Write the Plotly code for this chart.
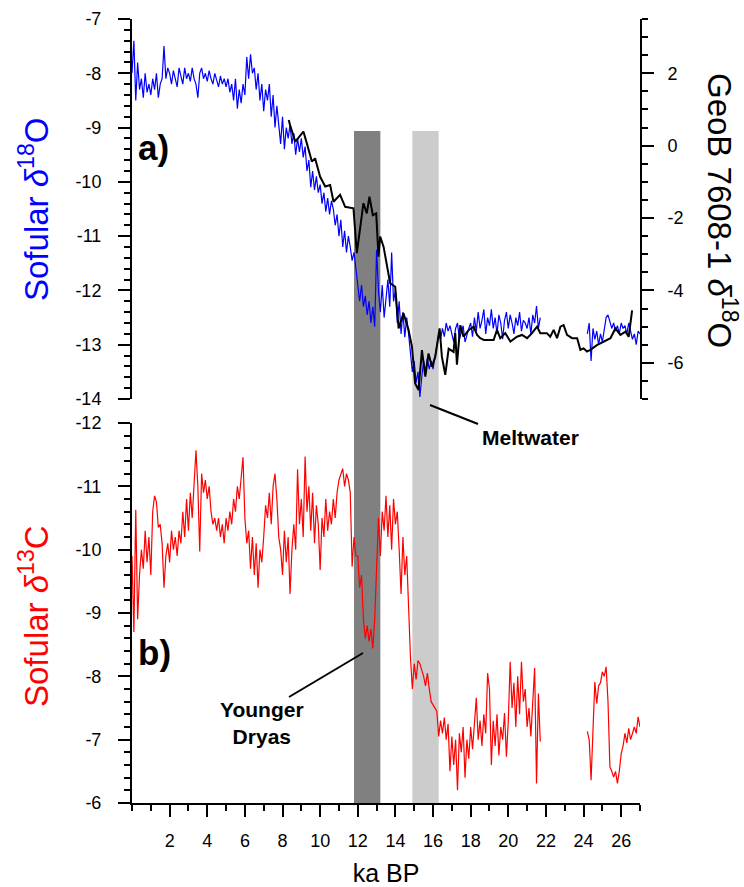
import numpy as np
import plotly.graph_objects as go

# ---------------- data ----------------
# Sofular d18O (blue), 0.1 ka steps, two segments (gap 21.7-24.2 ka)
sof_d18o_age_a = np.round(np.arange(0.0, 21.75, 0.1), 2)
sof_d18o_a = [
    -8.0, -7.4, -8.5, -7.8, -8.3, -8.1, -8.45, -8.0, -8.35, -8.2,
    -8.4, -8.1, -8.3, -8.0, -8.45, -8.2, -8.1, -7.5, -8.1, -7.9,
    -8.0, -8.2, -7.95, -8.1, -8.25, -7.9, -8.05, -8.2, -7.9, -8.1,
    -8.0, -8.15, -7.9, -8.1, -8.2, -8.45, -8.0, -7.9, -8.1, -8.0,
    -8.15, -7.95, -8.1, -8.2, -8.0, -8.15, -8.25, -8.05, -8.2, -8.1,
    -8.25, -8.1, -8.35, -8.2, -8.5, -8.1, -8.65, -8.3, -8.55, -8.2,
    -8.4, -7.7, -8.1, -7.65, -8.0, -7.9, -8.3, -8.0, -8.5, -8.2,
    -8.7, -8.3, -8.5, -8.2, -8.8, -8.4, -9.0, -8.6, -8.9, -9.3,
    -8.8, -9.4, -9.0, -9.2, -8.95, -9.3, -9.1, -9.5, -9.2, -9.45,
    -9.2, -9.55, -9.35, -9.8, -9.6, -10.1, -9.8, -10.15, -9.9, -10.2,
    -10.05, -10.4, -10.2, -10.55, -10.3, -10.6, -10.35, -10.5, -10.8, -10.6,
    -11.0, -10.7, -11.2, -10.9, -11.3, -11.0, -11.2, -11.45, -11.3, -11.6,
    -11.8, -12.2, -11.9, -12.3, -12.1, -12.45, -12.2, -12.6, -12.3, -12.67,
    -11.25, -12.0, -12.4, -11.9, -12.5, -12.2, -11.8, -12.3, -11.3, -12.2,
    -12.0, -12.6, -12.2, -12.8, -12.4, -12.86, -12.5, -12.8, -13.2, -13.5,
    -13.3, -13.7, -13.5, -13.96, -13.6, -13.3, -13.5, -13.25, -13.45, -13.3,
    -13.45, -13.2, -12.95, -12.8, -12.9, -12.7, -12.85, -12.6, -12.75, -12.65,
    -12.8, -12.95, -12.7, -12.6, -12.9, -12.75, -12.65, -12.95, -12.8, -12.7,
    -12.6, -12.85, -12.5, -12.75, -12.4, -12.7, -12.55, -12.35, -12.8, -12.5,
    -12.65, -12.35, -12.7, -12.5, -12.8, -12.45, -12.6, -12.9, -12.55, -12.4,
    -12.7, -12.45, -12.6, -12.8, -12.5, -12.65, -12.4, -12.75, -12.55, -12.6,
    -12.7, -12.5, -12.8, -12.45, -12.6, -12.29, -12.7, -12.5,
]
sof_d18o_age_b = np.round(np.arange(24.2, 27.05, 0.1), 2)
sof_d18o_b = [
    -12.8, -12.6, -13.3, -12.7, -12.9, -12.75, -13.0, -12.8, -12.95, -12.75,
    -12.5, -12.45, -12.6, -12.7, -12.6, -12.75, -12.65, -12.8, -12.6, -12.7,
    -12.65, -12.8, -12.6, -12.75, -12.9, -12.8, -13.0, -12.75, -12.8,
]

# GeoB 7608-1 d18O (black, right axis)
geob_age = [
    8.33, 8.40, 8.68, 8.76, 9.11, 9.29, 9.56, 9.73, 10.0, 10.27, 10.53, 10.71,
    11.06, 11.33, 11.77, 11.95, 12.30, 12.48, 12.62, 12.80, 12.98, 13.10,
    13.19, 13.37, 13.55, 13.72, 13.99, 14.17, 14.43, 14.70, 14.88, 15.05,
    15.23, 15.41, 15.59, 15.76, 15.94, 16.12, 16.35, 16.47, 16.65, 16.83,
    17.09, 17.18, 17.27, 17.45, 17.62, 17.90, 18.16, 18.34, 18.51, 18.70,
    19.22, 19.40, 19.57, 19.84, 20.11, 20.46, 20.73, 21.00, 21.26, 21.53,
    21.70, 22.05, 22.23, 22.41, 22.59, 22.77, 22.94, 23.12, 23.39, 23.66,
    23.83, 24.00, 24.18, 24.36, 24.71, 25.07, 25.43, 25.69, 25.96, 26.23,
    26.40, 26.58,
]
geob_d18o = [
    0.71, 0.57, 0.11, 0.16, 0.39, 0.07, -0.44, -0.35, -0.86, -1.13, -1.09, -1.55,
    -1.36, -1.69, -1.73, -2.97, -1.59, -1.87, -1.41, -1.92, -1.87, -3.07,
    -2.51, -2.79, -3.34, -3.80, -3.90, -5.05, -4.63, -5.09, -5.55, -6.57,
    -6.75, -5.65, -6.38, -5.74, -6.11, -5.83, -5.05, -5.83, -6.33, -5.61,
    -5.70, -5.18, -6.05, -4.96, -5.28, -5.09, -5.00, -5.23, -5.32, -5.37,
    -5.37, -5.09, -5.32, -5.18, -5.41, -5.28, -5.23, -5.32, -5.18, -5.00,
    -5.18, -5.18, -5.28, -5.09, -5.32, -5.00, -4.96, -5.23, -5.32, -5.32,
    -5.64, -5.60, -5.69, -5.64, -5.51, -5.41, -5.32, -5.05, -5.23, -5.14,
    -5.28, -4.55,
]

# Sofular d13C (red), 0.1 ka steps, two segments
sof_d13c_age_a = np.round(np.arange(0.0, 21.75, 0.1), 2)
sof_d13c_a = [
    -9.9, -8.7, -10.63, -8.9, -9.6, -10.0, -9.7, -10.3, -9.8, -10.2,
    -9.6, -10.6, -10.85, -10.75, -10.35, -10.4, -10.1, -9.4, -9.9, -10.1,
    -9.8, -10.3, -10.0, -10.2, -9.9, -10.3, -10.1, -10.6, -10.2, -10.8,
    -10.3, -10.9, -10.5, -11.1, -11.57, -11.0, -9.97, -11.2, -10.9, -11.1,
    -10.8, -11.0, -10.6, -10.4, -10.5, -10.3, -10.5, -10.2, -10.4, -10.1,
    -10.5, -10.3, -10.6, -10.4, -10.8, -10.6, -11.0, -10.8, -11.2, -11.46,
    -10.5, -10.1, -10.3, -9.7, -10.2, -9.6, -10.1, -9.4, -10.0, -9.8,
    -10.2, -10.7, -10.5, -10.9, -10.4, -11.0, -11.2, -10.8, -10.2, -10.0,
    -9.6, -10.3, -9.8, -10.2, -9.3, -10.0, -10.4, -10.0, -11.27, -10.4,
    -10.8, -10.2, -11.47, -10.6, -11.0, -10.3, -10.9, -10.1, -10.7, -10.4,
    -9.68, -10.5, -10.2, -10.8, -10.3, -10.6, -10.4, -10.8, -10.5, -10.9,
    -11.1, -11.2, -11.28, -11.0, -11.2, -11.1, -10.9, -9.73, -10.2, -9.9,
    -9.9, -9.4, -9.6, -8.9, -8.6, -8.8, -8.55, -8.75, -8.44, -8.9,
    -9.8, -10.5, -9.9, -10.6, -10.3, -10.85, -10.2, -10.7, -10.0, -10.8,
    -10.4, -10.6, -10.0, -9.3, -10.2, -9.6, -9.9, -9.0, -8.3, -7.8,
    -8.2, -7.95, -8.25, -8.2, -8.1, -8.0, -7.85, -8.05, -7.8, -7.6,
    -7.55, -7.5, -7.45, -7.05, -7.3, -7.1, -7.35, -7.0, -7.25, -6.5,
    -7.05, -6.6, -7.0, -6.2, -7.1, -6.8, -7.2, -6.4, -7.0, -6.7,
    -7.2, -6.85, -7.3, -7.66, -7.0, -7.3, -6.9, -7.4, -7.1, -8.05,
    -7.8, -6.6, -7.3, -6.9, -7.4, -6.75, -7.2, -7.0, -7.42, -6.73,
    -7.3, -8.23, -7.5, -7.9, -7.2, -8.0, -7.4, -8.23, -7.6, -7.8,
    -7.2, -7.5, -7.05, -7.7, -8.13, -6.31, -7.73, -6.97,
]
sof_d13c_age_b = np.round(np.arange(24.2, 27.05, 0.1), 2)
sof_d13c_b = [
    -7.13, -7.0, -6.36, -7.2, -7.91, -7.57, -7.85, -7.9, -8.07, -8.0,
    -8.15, -7.6, -6.57, -6.5, -6.41, -6.5, -6.31, -6.5, -6.78, -6.9,
    -7.1, -6.95, -7.18, -7.0, -7.1, -7.2, -7.1, -7.36, -7.2,
]

x_ticks = list(range(2, 27, 2))
top_left_ticks = [-7, -8, -9, -10, -11, -12, -13, -14]
right_ticks = [2, 0, -2, -4, -6]
bottom_ticks = [-12, -11, -10, -9, -8, -7, -6]
younger_dryas = (11.8, 13.2)
meltwater = (14.9, 16.3)

# ---------------- figure ----------------
W, H = 744, 887
def px(x):
    return x / W
def py(y):
    return 1 - y / H

FONT = "Liberation Sans, Arial, Helvetica, sans-serif"
XD = [px(132), px(640)]

fig = go.Figure()

nan = [None]
fig.add_trace(go.Scatter(
    x=list(sof_d18o_age_a) + nan + list(sof_d18o_age_b),
    y=sof_d18o_a + nan + sof_d18o_b,
    mode="lines", line=dict(color="#0000ff", width=1.2),
    xaxis="x2", yaxis="y", showlegend=False, connectgaps=False))
fig.add_trace(go.Scatter(
    x=geob_age, y=geob_d18o, mode="lines",
    line=dict(color="black", width=2),
    xaxis="x2", yaxis="y3", showlegend=False))
fig.add_trace(go.Scatter(
    x=list(sof_d13c_age_a) + nan + list(sof_d13c_age_b),
    y=sof_d13c_a + nan + sof_d13c_b,
    mode="lines", line=dict(color="#ff0000", width=1.2),
    xaxis="x", yaxis="y2", showlegend=False, connectgaps=False))

common_tick = dict(ticks="outside", tickcolor="black", tickwidth=2,
                   showline=True, linecolor="black", linewidth=2,
                   showgrid=False, zeroline=False, automargin=False,
                   tickfont=dict(family=FONT, size=18, color="black"))

def lab(v):
    return ["-" + str(abs(t)) if t < 0 else str(t) for t in v]

fig.update_layout(
    width=W, height=H, margin=dict(l=0, r=0, t=0, b=0),
    paper_bgcolor="white", plot_bgcolor="rgba(0,0,0,0)",
    font=dict(family=FONT, color="black"),
    xaxis=dict(domain=XD, anchor="y2", range=[0, 27],
               tickmode="array", tickvals=x_ticks, ticktext=lab(x_ticks),
               ticklen=12, ticklabelstandoff=8,
               title=dict(text="ka BP", standoff=22,
                          font=dict(family=FONT, size=25, color="black")),
               minor=dict(dtick=1, tick0=0, ticks="outside", ticklen=6,
                          tickcolor="black", tickwidth=2),
               **common_tick),
    xaxis2=dict(domain=XD, anchor="y", matches="x", range=[0, 27],
                visible=False),
    yaxis=dict(domain=[py(399), py(19)], anchor="x2", range=[-14, -7],
               tickmode="array", tickvals=top_left_ticks,
               ticktext=lab(top_left_ticks), ticklen=12, ticklabelstandoff=13,
               minor=dict(dtick=0.2, tick0=0, ticks="outside", ticklen=6,
                          tickcolor="black", tickwidth=2),
               **common_tick),
    yaxis3=dict(overlaying="y", side="right", anchor="x2", range=[-7, 3.5],
                tickmode="array", tickvals=right_ticks,
                ticktext=lab(right_ticks), ticklen=12, ticklabelstandoff=10,
                minor=dict(dtick=0.5, tick0=0, ticks="outside", ticklen=6,
                           tickcolor="black", tickwidth=2),
                **common_tick),
    yaxis2=dict(domain=[py(803), py(423)], anchor="x", range=[-6, -12],
                tickmode="array", tickvals=bottom_ticks,
                ticktext=lab(bottom_ticks), ticklen=12, ticklabelstandoff=13,
                minor=dict(dtick=0.2, tick0=0, ticks="outside", ticklen=6,
                           tickcolor="black", tickwidth=2),
                **common_tick),
)

# shaded intervals spanning both panels
for (a, b), col in [(younger_dryas, "#808080"), (meltwater, "#cccccc")]:
    fig.add_shape(type="rect", xref="x", yref="paper", x0=a, x1=b,
                  y0=py(803), y1=py(131), fillcolor=col, line_width=0,
                  layer="below")

# pointer lines
fig.add_shape(type="line", xref="paper", yref="paper",
              x0=px(430), y0=py(405), x1=px(478), y1=py(424),
              line=dict(color="black", width=2))
fig.add_shape(type="line", xref="paper", yref="paper",
              x0=px(289), y0=py(697), x1=px(363), y1=py(653),
              line=dict(color="black", width=2))

def ann(text, x, y, size, color="black", angle=0, bold=False):
    fig.add_annotation(text=("<b>%s</b>" % text) if bold else text,
                       xref="paper", yref="paper", x=px(x), y=py(y),
                       xanchor="center", yanchor="middle", showarrow=False,
                       textangle=angle,
                       font=dict(family=FONT, size=size, color=color))

ann("Sofular <i>δ</i><sup>18</sup>O", 34, 210, 33, "#0000ff", -90)
ann("Sofular <i>δ</i><sup>13</sup>C", 34, 616, 33, "#ff0000", -90)
ann("GeoB 7608-1 <i>δ</i><sup>18</sup>O", 722, 210, 33, "black", 90)
ann("a)", 153, 148, 35, bold=True)
ann("b)", 154, 652, 35, bold=True)
ann("Meltwater", 530, 437, 21, bold=True)
ann("Younger<br>Dryas", 262, 723, 21, bold=True)

fig.write_html("out.html")
